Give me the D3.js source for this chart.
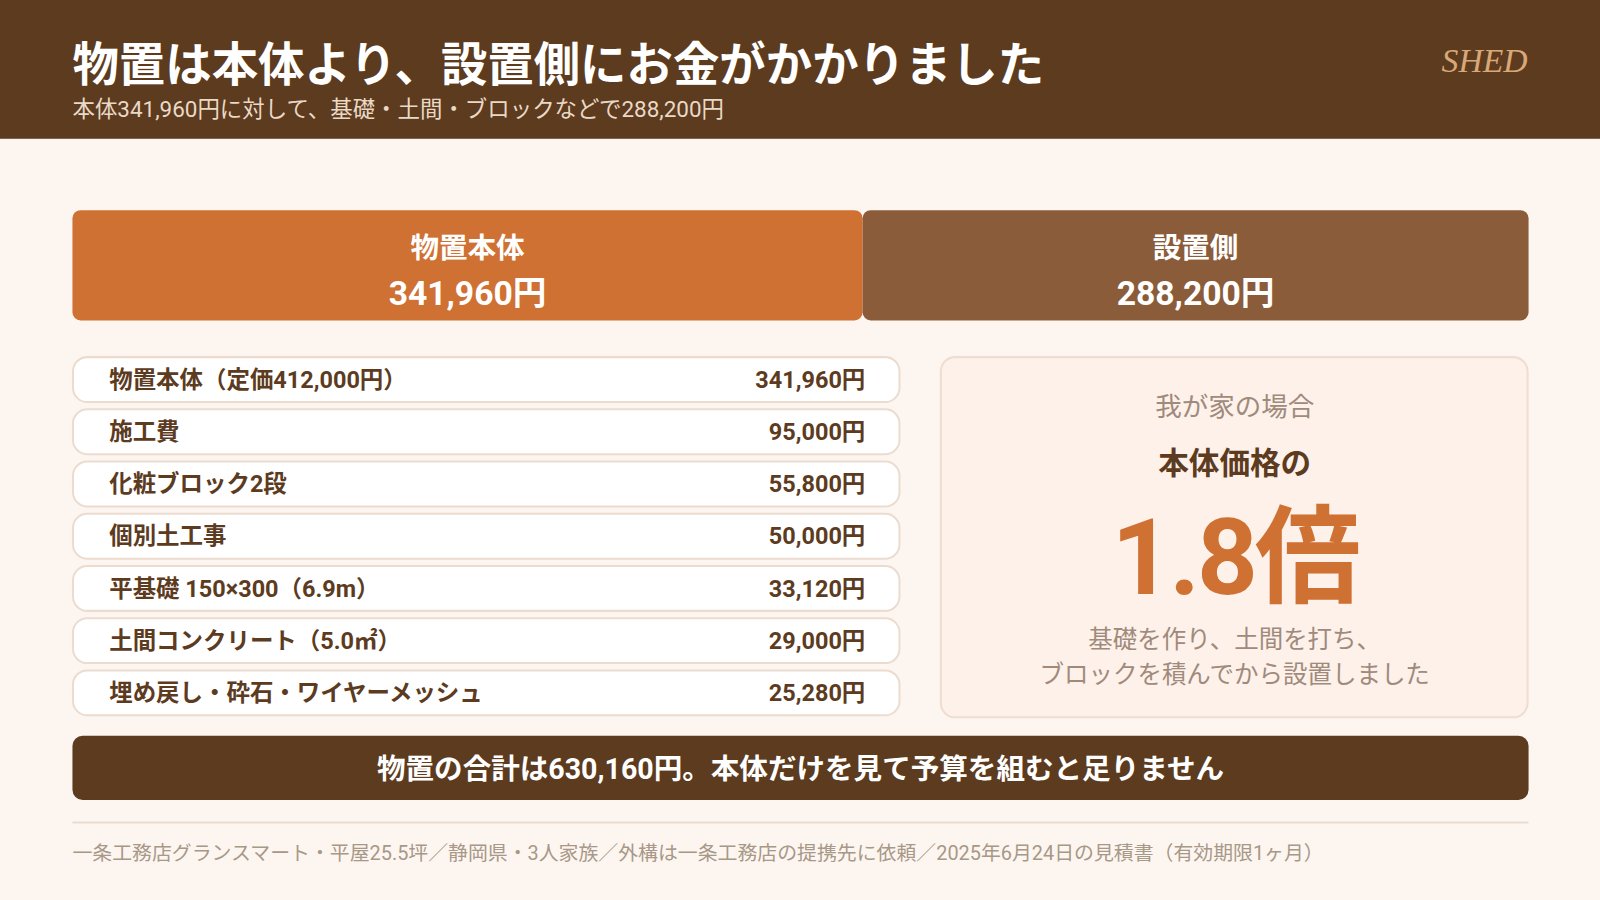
<!DOCTYPE html>
<html><head><meta charset="utf-8">
<script src="https://cdn.jsdelivr.net/npm/d3@7"></script>
<style>body{margin:0;background:#fdf6f0}svg{display:block}</style>
</head><body>
<svg id="c" width="1600" height="900" viewBox="0 0 1568 882" font-family="Roboto, 'Noto Sans CJK JP', sans-serif"></svg>
<script>
const title = "物置は本体より、設置側にお金がかかりました";
const subtitle = "本体341,960円に対して、基礎・土間・ブロックなどで288,200円";
const groupNames = ["物置本体", "設置側"];
const groupValues = [341960, 288200];
const itemLabels = ["物置本体（定価412,000円）","施工費","化粧ブロック2段","個別土工事","平基礎 150×300（6.9m）","土間コンクリート（5.0㎡）","埋め戻し・砕石・ワイヤーメッシュ"];
const itemValues = [341960, 95000, 55800, 50000, 33120, 29000, 25280];
const footer = "一条工務店グランスマート・平屋25.5坪／静岡県・3人家族／外構は一条工務店の提携先に依頼／2025年6月24日の見積書（有効期限1ヶ月）";

const svg = d3.select("#c");
const fmt = d3.format(",");
const dark = "#5c3b1f";
svg.append("rect").attr("width",1568).attr("height",882).attr("fill","#fdf6f0");
svg.append("rect").attr("width",1568).attr("height",136).attr("fill",dark);
svg.append("text").attr("x",71).attr("y",79).attr("fill","#fff").attr("font-size",45.5).attr("font-weight",700).text(title);
svg.append("text").attr("x",71).attr("y",115).attr("fill","#ead9c6").attr("font-size",22).text(subtitle);
svg.append("text").attr("x",1497).attr("y",71).attr("text-anchor","end").attr("fill","#d9a877").attr("font-size",33).attr("font-style","italic").attr("font-family","'Liberation Serif', 'DejaVu Serif', serif").text("SHED");

const total = d3.sum(groupValues);
const x = d3.scaleLinear().domain([0,total]).range([71,1498]);
const cum = [0, groupValues[0]];
const gcol = ["#cf7133","#8b5c3a"];
groupValues.forEach((v,i)=>{
  const x0 = x(cum[i]), x1 = x(cum[i]+v);
  svg.append("rect").attr("x",x0).attr("y",206).attr("width",x1-x0).attr("height",108).attr("rx",8).attr("fill",gcol[i]);
  const cx=(x0+x1)/2;
  svg.append("text").attr("x",cx).attr("y",253).attr("text-anchor","middle").attr("fill","#fff").attr("font-size",28).attr("font-weight",700).text(groupNames[i]);
  svg.append("text").attr("x",cx).attr("y",299).attr("text-anchor","middle").attr("fill","#fff").attr("font-size",33).attr("font-weight",700).text(fmt(v)+"円");
});

const y = d3.scaleBand().domain(d3.range(itemLabels.length)).range([350,701]).paddingInner(0.14);
itemLabels.forEach((l,i)=>{
  const yy=y(i), h=y.bandwidth();
  svg.append("rect").attr("x",71.5).attr("y",yy).attr("width",810).attr("height",h).attr("rx",14).attr("fill","#fff").attr("stroke","#ecdcd0").attr("stroke-width",2);
  svg.append("text").attr("x",107).attr("y",yy+h/2+8).attr("fill",dark).attr("font-size",23).attr("font-weight",700).text(l);
  svg.append("text").attr("x",848).attr("y",yy+h/2+8).attr("text-anchor","end").attr("fill",dark).attr("font-size",23).attr("font-weight",700).text(fmt(itemValues[i])+"円");
});

svg.append("rect").attr("x",922).attr("y",350).attr("width",575).attr("height",353).attr("rx",14).attr("fill","#fdf1ea").attr("stroke","#f0ddd2").attr("stroke-width",2);
const cx=1210;
svg.append("text").attr("x",cx).attr("y",408).attr("text-anchor","middle").attr("fill","#a08a7c").attr("font-size",26).text("我が家の場合");
svg.append("text").attr("x",cx).attr("y",465).attr("text-anchor","middle").attr("fill",dark).attr("font-size",30).attr("font-weight",700).text("本体価格の");
svg.append("text").attr("x",cx).attr("y",582).attr("text-anchor","middle").attr("fill","#cf7133").attr("font-size",104).attr("font-weight",700).attr("letter-spacing",-3).text((total/groupValues[0]).toFixed(1)+"倍");
svg.append("text").attr("x",cx).attr("y",635).attr("text-anchor","middle").attr("fill","#a08a7c").attr("font-size",24).text("基礎を作り、土間を打ち、");
svg.append("text").attr("x",cx).attr("y",669).attr("text-anchor","middle").attr("fill","#a08a7c").attr("font-size",24).text("ブロックを積んでから設置しました");

svg.append("rect").attr("x",71).attr("y",721).attr("width",1427).attr("height",63).attr("rx",10).attr("fill",dark);
svg.append("text").attr("x",784.5).attr("y",763).attr("text-anchor","middle").attr("fill","#fff").attr("font-size",28).attr("font-weight",700).text("物置の合計は"+fmt(total)+"円。本体だけを見て予算を組むと足りません");
svg.append("line").attr("x1",71).attr("x2",1498).attr("y1",806).attr("y2",806).attr("stroke","#ecdcd0").attr("stroke-width",2);
svg.append("text").attr("x",71).attr("y",843).attr("fill","#a89888").attr("font-size",19.5).text(footer);
</script></body></html>
